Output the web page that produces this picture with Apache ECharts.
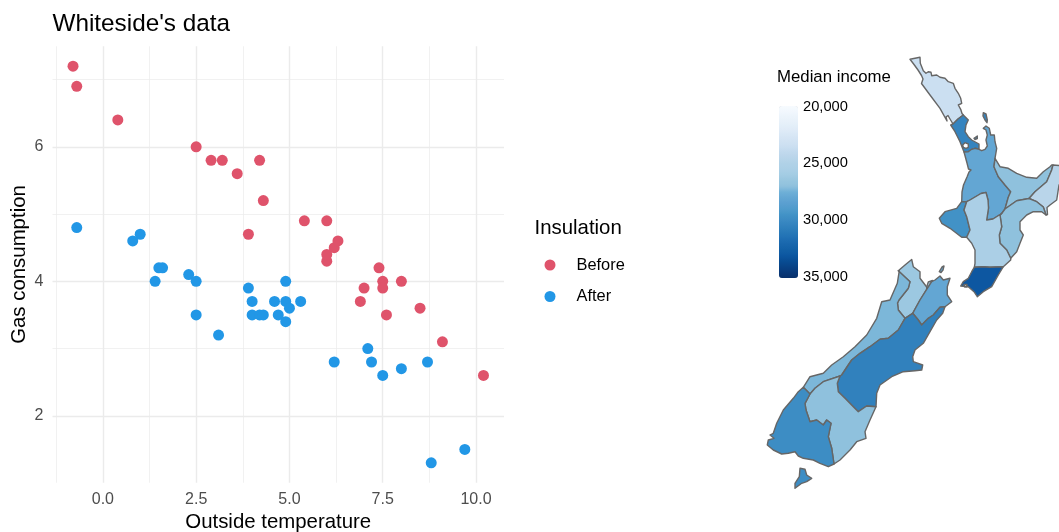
<!DOCTYPE html>
<html>
<head>
<meta charset="utf-8">
<script src="https://cdn.jsdelivr.net/npm/echarts@6/dist/echarts.min.js"></script>
<style>html,body{margin:0;padding:0;background:#fff}#c{width:1059px;height:532px}</style>
</head>
<body>
<div id="c"></div>
<script>
// Whiteside's data: [outside temperature, gas consumption]
const before = [[-0.8,7.2],[-0.7,6.9],[0.4,6.4],[2.5,6.0],[2.9,5.8],[3.2,5.8],[3.6,5.6],[3.9,4.7],[4.2,5.8],[4.3,5.2],[5.4,4.9],[6.0,4.9],[6.0,4.3],[6.0,4.4],[6.2,4.5],[6.3,4.6],[6.9,3.7],[7.0,3.9],[7.4,4.2],[7.5,4.0],[7.5,3.9],[7.6,3.5],[8.0,4.0],[8.5,3.6],[9.1,3.1],[10.2,2.6]];
const after = [[-0.7,4.8],[0.8,4.6],[1.0,4.7],[1.4,4.0],[1.5,4.2],[1.6,4.2],[2.3,4.1],[2.5,4.0],[2.5,3.5],[3.1,3.2],[3.9,3.9],[4.0,3.5],[4.0,3.7],[4.2,3.5],[4.3,3.5],[4.6,3.7],[4.7,3.5],[4.9,3.4],[4.9,3.7],[4.9,4.0],[5.0,3.6],[5.3,3.7],[6.2,2.8],[7.1,3.0],[7.2,2.8],[7.5,2.6],[8.0,2.7],[8.7,2.8],[8.8,1.3],[9.7,1.5]];
const xMajor = [0,2.5,5,7.5,10];
const xMinor = [-1.25,1.25,3.75,6.25,8.75];
const yMajor = [2,4,6];
const yMinor = [3,5,7];
const incomeTicks = [20000,25000,30000,35000];

// Median income per region
const incomeByRegion = {
  Northland:23500, Auckland:30300, Waikato:28000, 'Bay of Plenty':27000, Gisborne:24500,
  "Hawke's Bay":27000, Taranaki:29500, 'Manawatu-Wanganui':25500, Wellington:33000,
  Tasman:26300, Nelson:25500, Marlborough:28000, 'West Coast':27300, Canterbury:30500,
  Otago:27000, Southland:29800
};

// Colour ramp of the income scale, one stop per 500 from 20,000 to 35,000
const incomeRamp = ['#f7fbff','#f1f7fd','#ebf3fb','#e6f0f9','#e0ecf8','#d9e7f5','#d2e3f3','#cbdff1','#c1d9ed','#b9d5ea','#b0d2e7','#abcfe6','#a3cce3','#98c6df','#8fc1dd','#6fb0d7','#63a6d3','#5a9fd0','#4f9bcb','#4292c6','#3a89c2','#3181bd','#2879b8','#2070b4','#1967ad','#1260a6','#0d57a1','#084d94','#084387','#083979','#08306b'];

// Region outlines, in map units (x east, y south)
const wkBop = [[995,158.3],[994,166.7],[998.3,176.7],[1005,185],[1010.7,191.7],[1008.3,197.3],[1005,209]];
const wkMw = [[966.7,201.7],[970,200],[981,193.5],[986,192.5],[988,200],[988.5,208],[986.7,220],[993,219],[1001.7,213.5]];
const mwHb = [[1001.7,213.5],[1000,215],[1001.7,226.7],[999.3,235],[1000,243.3],[1006.7,250],[1010.7,258.3]];
const tkMw = [[966.7,201.7],[964,210],[966.7,216.7],[970,230],[966.7,237.3]];
const bopHb = [[1005,209],[1016.7,200.7],[1029,198.5]];
const bopGis = [[1029,198.5],[1035,191.7],[1046.7,181.7],[1051.7,170],[1053,165]];
const hbGis = [[1029,198.5],[1036.7,201.7],[1043.3,207],[1046,215]];
const wlMw = [[1003.3,266.7],[990,267.3],[983.3,266.7],[974.3,267.3]];
const tasW = [[905,318.3],[898.3,310],[897.5,303],[899,300],[908.3,288.3],[910,281.7],[898.3,270.7]];
const tasMb = [[926.7,289.3],[920,300],[912.7,313.3]];
const canWc = [[851.7,360],[860,353.3],[870,346.7],[880,339.3],[888.3,338.3],[898.3,330],[905,318.3]];
const canOt = [[876,406.7],[866.7,406],[858.3,411.7],[853.3,406.7],[845,398.3],[838.3,391.7],[837.3,383.3],[840,376]];
const canMb = [[912.7,313.3],[918.3,320],[921.7,325],[928.3,318.3],[933.3,315],[940,307.3],[945,306.7]];
const otSl = [[810,394],[805,403.3],[806,410],[810,421.7],[816.7,420],[823.3,425],[826.7,420],[831,423.3],[828.3,436.7],[831.7,448.3],[834,464]];
const otWc = [[810,394],[815,388.3],[823.3,381.7],[840,376]];
const rev = a => a.slice().reverse();

const northland = [[[[910,59.3],[920,57.3],[920.3,63.3],[923.3,70.7],[926,73.3],[928.3,71.7],[931,72.3],[931.7,75.7],[936.7,75],[940,77.3],[945,78.3],[948.3,81.7],[953.3,83.3],[955,88.3],[958.3,93.3],[960.7,98.3],[961.7,103.3],[958.3,105],[960.7,109.3],[962,113.5],[963.3,115],[958,119],[953,124],[950,119],[948,115.5],[946,117],[947,121],[940,108.3],[930,95],[921.5,83.5],[923,79],[921.5,75.5],[918,70],[914,64.5]]]];
const auckland = [
  [[[963.3,115],[968.3,120],[966,125],[965,131.7],[968.3,136.7],[971.7,140],[979,144],[979,149.3],[975,148.3],[971.7,149.3],[968.3,151.7],[964,152],[960,141.7],[955,131.7],[950.7,125],[953,124],[958,119]],
   [[962.7,145],[963.3,147.3],[966,148.3],[968.3,147.3],[968.3,144],[965,142.7]]],
  [[[983.3,112.7],[986,114],[987.3,120],[987,122.7],[985,120],[983,116]]],
  [[[974,138.3],[977.3,136],[977.3,138.5],[975,139.5]]]
];
const waikato = [[[[964,152],[968.3,151.7],[971.7,149.3],[975,148.3],[979,149.3],[981.7,150.7],[985,149.3],[987.3,146],[986,140],[987.3,135],[986,130],[983.3,128.3],[986,126],[989.3,128.3],[990.7,135],[994.3,135],[995,141.7],[996.7,148.3],...wkBop,...rev(wkMw),[961.7,201.7],[962,192],[963.5,185],[967,177],[969,172],[971,170],[968.5,169],[967,163]]]];
const bayOfPlenty = [[[...wkBop,...bopHb,...bopGis,[1051.7,165],[1050,166.7],[1043.3,171.7],[1036.7,178.3],[1026.7,177.3],[1016.7,173.3],[1008.3,168.3],[1000,166.7]]]];
const gisborne = [[[...rev(bopGis),...hbGis,[1047.5,214.5],[1047,207.5],[1050,205],[1056.7,200],[1059,185],[1064,180],[1063,170],[1060,165.5]]]];
const hawkesBay = [[[...bopHb,...hbGis,[1041.7,211.7],[1033.3,211.7],[1026.7,215],[1020,221.7],[1020,230],[1023.3,235],[1020,243.3],[1016.7,251.7],...rev(mwHb)]]];
const taranaki = [[[[961.7,201.7],...tkMw,[961.7,237.3],[950,228.3],[941.7,223.3],[939.3,218.3],[945,211.7],[956.7,208.3]]]];
const manawatu = [[[...wkMw,...mwHb,[1010.7,260],...wlMw,[975,263.3],[975,250],[971.7,243.3],...rev(tkMw)]]];
const wellington = [[[[974.3,267.3],...rev(wlMw).slice(1),[998.3,275],[991.7,286.7],[983.3,291.7],[977.3,296.7],[974,291.7],[968.3,286.7],[960.7,286],[963.3,281.7],[968.3,278.3],[971.7,271.7]],
  [[964,284.5],[964.5,287],[967,287],[967,284.5]]]];
const tasman = [[[[911.7,259.5],[913.3,266.7],[920,271.7],[920,278.3],[926.7,287],...tasMb,...tasW,[905,265]]]];
const nelson = [[[[926.7,287],[928.3,282],[932.5,280.5],[929,286],[926.7,289.3]]]];
const marlborough = [
  [[[926.7,289.3],[931.7,281.7],[935,280],[940,276],[943.3,280],[950,278.3],[947.3,286.7],[947.3,295],[951.7,301.7],[945,306.7],...rev(canMb),...rev(tasMb)]],
  [[[939.3,271.7],[942,267],[944,266],[943,270],[941,272.5]]]
];
const westCoast = [[[[899.3,270.7],[897.3,283.3],[890,300],[881.7,301.7],[876.7,318.3],[866.7,335],[855,346.7],[843.3,356.7],[831.7,365],[823.3,373.3],[810,376.7],[803.3,387.3],...otWc,[841.7,375],[848.3,365],...canWc,...tasW]]];
const canterbury = [[[...canMb,[942.7,313.3],[936.7,320],[930,331.7],[923.3,343.3],[915,350],[912.7,356.7],[913.3,361.7],[922.7,365],[921.7,370],[915,370.7],[903.3,371.7],[891.7,376.7],[880,385],[876.7,393.3],...canOt,[841.7,375],[848.3,365],...canWc]]];
const otago = [[[...otWc,...rev(canOt).slice(1),[870,420],[865,431.7],[866,438.3],[856.7,441.7],[850,450],[840,460],...rev(otSl).slice(0,-1)]]];
const southland = [
  [[[803.3,387.3],...otSl,[828.3,466.7],[820,463.3],[813.3,460],[803.3,458.3],[798.3,456],[795,451.7],[788.3,453.3],[781.7,454],[773.3,450],[767.3,445],[768.3,440],[774,438.3],[770,435],[773.3,433.3],[776.7,423.3],[783.3,410],[793.3,398.3],[798.3,391.7]]],
  [[[800,468.3],[805,469.3],[806.7,475],[811.7,478.3],[806.7,481.7],[801.7,483.3],[795,488.3],[795,483.3],[799.3,476.7]]]
];
const regionShapes = {
  Northland:northland, Auckland:auckland, Waikato:waikato, 'Bay of Plenty':bayOfPlenty, Gisborne:gisborne,
  "Hawke's Bay":hawkesBay, Taranaki:taranaki, 'Manawatu-Wanganui':manawatu, Wellington:wellington,
  Tasman:tasman, Nelson:nelson, Marlborough:marlborough, 'West Coast':westCoast, Canterbury:canterbury,
  Otago:otago, Southland:southland
};

const features = Object.keys(regionShapes).map(name => ({
  type:'Feature', properties:{name}, geometry:{type:'MultiPolygon', coordinates:regionShapes[name]}
}));
echarts.registerMap('nz', {type:'FeatureCollection', features});

let x0=1e9,x1=-1e9,y0=1e9,y1=-1e9;
Object.values(regionShapes).forEach(mp=>mp.forEach(poly=>poly.forEach(ring=>ring.forEach(([x,y])=>{
  x0=Math.min(x0,x);x1=Math.max(x1,x);y0=Math.min(y0,y);y1=Math.max(y1,y);
}))));

const FONT = '"Liberation Sans", Arial, sans-serif';
const gridColor = '#ebebeb';
const tickText = '#4d4d4d';
const gridLines = [
  ...xMinor.map(v=>({xAxis:v, lineStyle:{type:'solid',width:0.7,color:gridColor}})),
  ...yMinor.map(v=>({yAxis:v, lineStyle:{type:'solid',width:0.7,color:gridColor}})),
  ...xMajor.map(v=>({xAxis:v, lineStyle:{type:'solid',width:1.4,color:gridColor}})),
  ...yMajor.map(v=>({yAxis:v, lineStyle:{type:'solid',width:1.4,color:gridColor}}))
];

const chart = echarts.init(document.getElementById('c'), null, {renderer:'canvas'});
chart.setOption({
  animation:false,
  backgroundColor:'#fff',
  textStyle:{fontFamily:FONT},
  grid:[
    {left:52.5, top:46.3, width:451.5, height:436.4, outerBoundsMode:'none'},
    {left:798, top:106.5, width:1, height:170, outerBoundsMode:'none'}
  ],
  xAxis:[
    {type:'value', gridIndex:0, min:-1.35, max:10.75, splitLine:{show:false}, axisLine:{show:false}, axisTick:{show:false},
     axisLabel:{customValues:xMajor, formatter:v=>v.toFixed(1), color:tickText, fontSize:16, margin:9, fontFamily:FONT, hideOverlap:false},
     name:'Outside temperature', nameLocation:'middle', nameGap:29, nameTextStyle:{color:'#000', fontSize:20.4, fontFamily:FONT}},
    {type:'value', gridIndex:1, min:0, max:1, show:false}
  ],
  yAxis:[
    {type:'value', gridIndex:0, min:1.005, max:7.495, splitLine:{show:false}, axisLine:{show:false}, axisTick:{show:false},
     axisLabel:{customValues:yMajor, formatter:v=>String(v), color:tickText, fontSize:16, margin:9, fontFamily:FONT},
     name:'Gas consumption', nameLocation:'middle', nameGap:23, nameRotate:90, nameTextStyle:{color:'#000', fontSize:20.4, fontFamily:FONT}},
    {type:'value', gridIndex:1, position:'right', inverse:true, min:incomeTicks[0], max:incomeTicks[3], interval:5000,
     splitLine:{show:false}, axisLine:{show:false}, axisTick:{show:false},
     axisLabel:{formatter:v=>v.toLocaleString('en-US'), color:'#000', fontSize:14.7, margin:4, fontFamily:FONT}}
  ],
  legend:{
    data:['Before','After'], left:544.5, top:257, orient:'vertical', icon:'circle',
    itemWidth:11, itemHeight:11, itemGap:15.5, padding:0,
    textStyle:{color:'#000', fontSize:16.4, padding:[0,0,0,16], fontFamily:FONT}
  },
  visualMap:{
    type:'continuous', seriesIndex:3, min:incomeTicks[0], max:incomeTicks[3], inverse:true,
    left:779, top:106, itemWidth:19, itemHeight:172, padding:0, text:['',''], showLabel:false,
    calculable:false, realtime:false, inRange:{color:incomeRamp}
  },
  graphic:[
    {type:'text', left:534.5, top:218, style:{text:'Insulation', fontSize:20.4, fill:'#000', fontFamily:FONT}},
    {type:'text', left:777, top:69, style:{text:'Median income', fontSize:16.8, fill:'#000', fontFamily:FONT}},
    {type:'text', left:52.5, top:12, style:{text:"Whiteside's data", fontSize:24.3, fill:'#000', fontFamily:FONT}}
  ],
  series:[
    {type:'line', xAxisIndex:0, yAxisIndex:0, data:[], z:1, silent:true,
     markLine:{silent:true, z:1, symbol:'none', label:{show:false}, animation:false, data:gridLines}},
    {name:'Before', type:'scatter', xAxisIndex:0, yAxisIndex:0, data:before, symbolSize:11, itemStyle:{color:'#DF536B', opacity:1}, z:3},
    {name:'After', type:'scatter', xAxisIndex:0, yAxisIndex:0, data:after, symbolSize:11, itemStyle:{color:'#2297E6', opacity:1}, z:3},
    {name:'Median income', type:'map', map:'nz', roam:false, silent:true, selectedMode:false, showLegendSymbol:false,
     projection:{project:p=>p, unproject:p=>p},
     left:x0, top:y0, width:x1-x0, height:y1-y0,
     label:{show:false}, emphasis:{disabled:true},
     itemStyle:{borderColor:'#666666', borderWidth:1.4, borderJoin:'round'},
     data:Object.keys(incomeByRegion).map(name=>({name, value:incomeByRegion[name]}))}
  ]
});
</script>
</body>
</html>
